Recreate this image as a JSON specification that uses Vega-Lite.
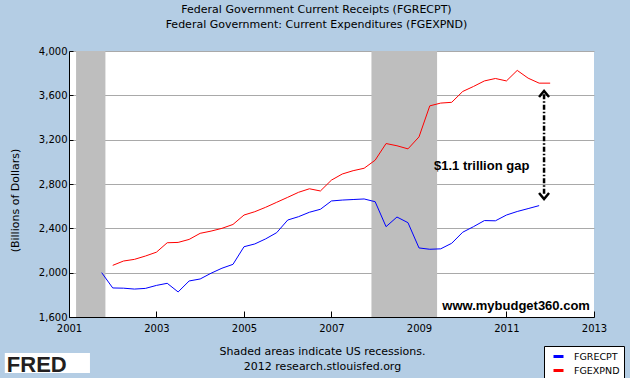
{
  "$schema": "https://vega.github.io/schema/vega-lite/v6.json",
  "width": 525,
  "height": 266,
  "autosize": "none",
  "padding": {"left": 69, "top": 51, "right": 36, "bottom": 61},
  "title": {
    "text": ["Federal Government Current Receipts (FGRECPT)", "Federal Government: Current Expenditures (FGEXPND)"],
    "font": "DejaVu Sans", "fontSize": 11, "fontWeight": "normal", "color": "black",
    "anchor": "middle", "frame": "group", "dx": -15, "offset": 16, "lineHeight": 15
  },
  "datasets": {
    "recessions": [
      {"start": "2001-03-01", "end": "2001-11-01"},
      {"start": "2007-12-01", "end": "2009-06-01"}
    ],
    "series": [
      {"date": "2001-10-01", "series": "FGRECPT", "value": 2000},
      {"date": "2002-01-01", "series": "FGRECPT", "value": 1862},
      {"date": "2002-04-01", "series": "FGRECPT", "value": 1860},
      {"date": "2002-07-01", "series": "FGRECPT", "value": 1852},
      {"date": "2002-10-01", "series": "FGRECPT", "value": 1858},
      {"date": "2003-01-01", "series": "FGRECPT", "value": 1885},
      {"date": "2003-04-01", "series": "FGRECPT", "value": 1904},
      {"date": "2003-07-01", "series": "FGRECPT", "value": 1826},
      {"date": "2003-10-01", "series": "FGRECPT", "value": 1925},
      {"date": "2004-01-01", "series": "FGRECPT", "value": 1943},
      {"date": "2004-04-01", "series": "FGRECPT", "value": 1995},
      {"date": "2004-07-01", "series": "FGRECPT", "value": 2040},
      {"date": "2004-10-01", "series": "FGRECPT", "value": 2075},
      {"date": "2005-01-01", "series": "FGRECPT", "value": 2234},
      {"date": "2005-04-01", "series": "FGRECPT", "value": 2259},
      {"date": "2005-07-01", "series": "FGRECPT", "value": 2305},
      {"date": "2005-10-01", "series": "FGRECPT", "value": 2361},
      {"date": "2006-01-01", "series": "FGRECPT", "value": 2475},
      {"date": "2006-04-01", "series": "FGRECPT", "value": 2505},
      {"date": "2006-07-01", "series": "FGRECPT", "value": 2545},
      {"date": "2006-10-01", "series": "FGRECPT", "value": 2572},
      {"date": "2007-01-01", "series": "FGRECPT", "value": 2647},
      {"date": "2007-04-01", "series": "FGRECPT", "value": 2655},
      {"date": "2007-07-01", "series": "FGRECPT", "value": 2660},
      {"date": "2007-10-01", "series": "FGRECPT", "value": 2665},
      {"date": "2008-01-01", "series": "FGRECPT", "value": 2640},
      {"date": "2008-04-01", "series": "FGRECPT", "value": 2415},
      {"date": "2008-07-01", "series": "FGRECPT", "value": 2502},
      {"date": "2008-10-01", "series": "FGRECPT", "value": 2451},
      {"date": "2009-01-01", "series": "FGRECPT", "value": 2223},
      {"date": "2009-04-01", "series": "FGRECPT", "value": 2211},
      {"date": "2009-07-01", "series": "FGRECPT", "value": 2215},
      {"date": "2009-10-01", "series": "FGRECPT", "value": 2265},
      {"date": "2010-01-01", "series": "FGRECPT", "value": 2365},
      {"date": "2010-04-01", "series": "FGRECPT", "value": 2415},
      {"date": "2010-07-01", "series": "FGRECPT", "value": 2470},
      {"date": "2010-10-01", "series": "FGRECPT", "value": 2468},
      {"date": "2011-01-01", "series": "FGRECPT", "value": 2520},
      {"date": "2011-04-01", "series": "FGRECPT", "value": 2552},
      {"date": "2011-07-01", "series": "FGRECPT", "value": 2578},
      {"date": "2011-10-01", "series": "FGRECPT", "value": 2605},
      {"date": "2002-01-01", "series": "FGEXPND", "value": 2066},
      {"date": "2002-04-01", "series": "FGEXPND", "value": 2105},
      {"date": "2002-07-01", "series": "FGEXPND", "value": 2120},
      {"date": "2002-10-01", "series": "FGEXPND", "value": 2150},
      {"date": "2003-01-01", "series": "FGEXPND", "value": 2185},
      {"date": "2003-04-01", "series": "FGEXPND", "value": 2270},
      {"date": "2003-07-01", "series": "FGEXPND", "value": 2273},
      {"date": "2003-10-01", "series": "FGEXPND", "value": 2300},
      {"date": "2004-01-01", "series": "FGEXPND", "value": 2355},
      {"date": "2004-04-01", "series": "FGEXPND", "value": 2375},
      {"date": "2004-07-01", "series": "FGEXPND", "value": 2400},
      {"date": "2004-10-01", "series": "FGEXPND", "value": 2435},
      {"date": "2005-01-01", "series": "FGEXPND", "value": 2520},
      {"date": "2005-04-01", "series": "FGEXPND", "value": 2550},
      {"date": "2005-07-01", "series": "FGEXPND", "value": 2590},
      {"date": "2005-10-01", "series": "FGEXPND", "value": 2635},
      {"date": "2006-01-01", "series": "FGEXPND", "value": 2680},
      {"date": "2006-04-01", "series": "FGEXPND", "value": 2725},
      {"date": "2006-07-01", "series": "FGEXPND", "value": 2757},
      {"date": "2006-10-01", "series": "FGEXPND", "value": 2737},
      {"date": "2007-01-01", "series": "FGEXPND", "value": 2835},
      {"date": "2007-04-01", "series": "FGEXPND", "value": 2890},
      {"date": "2007-07-01", "series": "FGEXPND", "value": 2920},
      {"date": "2007-10-01", "series": "FGEXPND", "value": 2942},
      {"date": "2008-01-01", "series": "FGEXPND", "value": 3015},
      {"date": "2008-04-01", "series": "FGEXPND", "value": 3165},
      {"date": "2008-07-01", "series": "FGEXPND", "value": 3145},
      {"date": "2008-10-01", "series": "FGEXPND", "value": 3117},
      {"date": "2009-01-01", "series": "FGEXPND", "value": 3225},
      {"date": "2009-04-01", "series": "FGEXPND", "value": 3505},
      {"date": "2009-07-01", "series": "FGEXPND", "value": 3530},
      {"date": "2009-10-01", "series": "FGEXPND", "value": 3537},
      {"date": "2010-01-01", "series": "FGEXPND", "value": 3635},
      {"date": "2010-04-01", "series": "FGEXPND", "value": 3680},
      {"date": "2010-07-01", "series": "FGEXPND", "value": 3730},
      {"date": "2010-10-01", "series": "FGEXPND", "value": 3752},
      {"date": "2011-01-01", "series": "FGEXPND", "value": 3730},
      {"date": "2011-04-01", "series": "FGEXPND", "value": 3825},
      {"date": "2011-07-01", "series": "FGEXPND", "value": 3755},
      {"date": "2011-10-01", "series": "FGEXPND", "value": 3710},
      {"date": "2012-01-01", "series": "FGEXPND", "value": 3710}
    ],
    "gap": [
      {"date": "2011-11-11", "top": 3610, "bottom": 2700}
    ],
    "heads": [
      {"date": "2011-11-11", "value": 3612, "dir": "up"},
      {"date": "2011-11-11", "value": 2692, "dir": "down"}
    ],
    "gaplabel": [
      {"date": "2010-06-08", "value": 2962, "label": "$1.1 trillion gap"}
    ],
    "site": [
      {"date": "2012-11-28", "value": 1699, "label": "www.mybudget360.com"}
    ]
  },
  "layer": [
    {
      "data": {"name": "recessions"},
      "mark": {"type": "rect", "color": "#BEBEBE"},
      "encoding": {
        "x": {"field": "start", "type": "temporal"},
        "x2": {"field": "end"}
      }
    },
    {
      "data": {"name": "series"},
      "mark": {"type": "line", "strokeWidth": 1},
      "encoding": {
        "x": {
          "field": "date", "type": "temporal",
          "scale": {"domain": [{"year": 2001, "month": 1, "date": 1}, {"year": 2013, "month": 1, "date": 1}], "nice": false},
          "axis": {
            "values": [{"year": 2001, "month": 1, "date": 1}, {"year": 2003, "month": 1, "date": 1}, {"year": 2005, "month": 1, "date": 1}, {"year": 2007, "month": 1, "date": 1}, {"year": 2009, "month": 1, "date": 1}, {"year": 2011, "month": 1, "date": 1}, {"year": 2013, "month": 1, "date": 1}],
            "format": "%Y", "grid": false, "tickSize": -6, "labelPadding": 12,
            "labelFlush": false, "labelOverlap": false,
            "title": ["Shaded areas indicate US recessions.", "2012 research.stlouisfed.org"],
            "titleX": 253, "titleY": 28, "titleBaseline": "top", "titleAlign": "center",
            "titleLineHeight": 15
          }
        },
        "y": {
          "field": "value", "type": "quantitative",
          "scale": {"domain": [1600, 4000], "nice": false, "zero": false},
          "axis": {
            "values": [1600, 2000, 2400, 2800, 3200, 3600, 4000],
            "labelExpr": "format(datum.value, ',')",
            "grid": true, "tickSize": -4, "labelPadding": 6,
            "title": "(Billions of Dollars)", "titleX": -54, "titleY": 149,
            "titleAngle": -90, "titleAlign": "center", "titleBaseline": "middle"
          }
        },
        "color": {
          "field": "series", "type": "nominal",
          "scale": {"domain": ["FGRECPT", "FGEXPND"], "range": ["#0000FF", "#FF0000"]},
          "legend": {
            "title": null, "orient": "none", "legendX": 475, "legendY": 295,
            "fillColor": "white", "strokeColor": "black", "padding": 4,
            "symbolType": "stroke", "symbolSize": 100, "symbolStrokeWidth": 3,
            "symbolOffset": 4, "labelOffset": 9, "rowPadding": 1,
            "labelFont": "DejaVu Sans", "labelFontSize": 9.5, "labelColor": "black"
          }
        }
      }
    },
    {
      "data": {"name": "gap"},
      "mark": {"type": "rule", "color": "black", "strokeWidth": 2.5, "strokeDash": [5, 2, 1.5, 2]},
      "encoding": {
        "x": {"field": "date", "type": "temporal"},
        "y": {"field": "top", "type": "quantitative"},
        "y2": {"field": "bottom"}
      }
    },
    {
      "data": {"name": "heads"},
      "mark": {"type": "point", "filled": false, "color": "black", "strokeWidth": 2.5, "size": 100, "opacity": 1},
      "encoding": {
        "x": {"field": "date", "type": "temporal"},
        "y": {"field": "value", "type": "quantitative"},
        "shape": {
          "field": "dir", "type": "nominal",
          "scale": {"domain": ["up", "down"], "range": ["M-1,0.6L0,-0.6L1,0.6", "M-1,-0.6L0,0.6L1,-0.6"]},
          "legend": null
        }
      }
    },
    {
      "data": {"name": "gaplabel"},
      "mark": {"type": "text", "font": "Liberation Sans", "fontSize": 13, "fontWeight": "bold", "color": "black", "baseline": "middle", "align": "center"},
      "encoding": {
        "x": {"field": "date", "type": "temporal"},
        "y": {"field": "value", "type": "quantitative"},
        "text": {"field": "label"}
      }
    },
    {
      "data": {"name": "site"},
      "mark": {"type": "text", "font": "Liberation Sans", "fontSize": 13, "fontWeight": "bold", "color": "black", "baseline": "middle", "align": "right"},
      "encoding": {
        "x": {"field": "date", "type": "temporal"},
        "y": {"field": "value", "type": "quantitative"},
        "text": {"field": "label"}
      }
    },
    {
      "data": {"values": [{}]},
      "mark": {"type": "rect", "color": "white"},
      "encoding": {
        "x": {"datum": {"year": 1999, "month": 7, "date": 15}, "type": "temporal"},
        "x2": {"datum": {"year": 2001, "month": 6, "date": 25}},
        "y": {"datum": 1275, "type": "quantitative"},
        "y2": {"datum": 1095}
      }
    },
    {
      "data": {"values": [{}]},
      "mark": {"type": "text", "text": "FRED", "font": "Liberation Sans", "fontSize": 22, "fontWeight": "bold", "color": "#231F20", "align": "left", "baseline": "middle"},
      "encoding": {
        "x": {"datum": {"year": 1999, "month": 8, "date": 1}, "type": "temporal"},
        "y": {"datum": 1170, "type": "quantitative"}
      }
    }
  ],
  "config": {
    "background": "#B4CDE4",
    "view": {"fill": "white", "stroke": null},
    "font": "DejaVu Sans",
    "axis": {
      "domainColor": "black", "domainWidth": 1, "tickColor": "black", "tickWidth": 1,
      "labelColor": "black", "labelFont": "DejaVu Sans", "labelFontSize": 10,
      "titleColor": "black", "titleFont": "DejaVu Sans", "titleFontSize": 11, "titleFontWeight": "normal",
      "gridColor": "#A9A9A9", "gridOpacity": 1, "gridWidth": 1
    }
  }
}
